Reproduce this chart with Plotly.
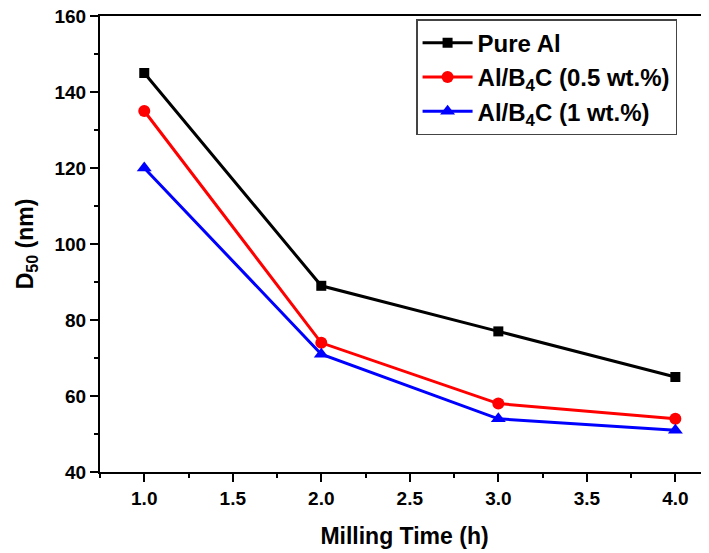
import plotly.graph_objects as go

milling_time = [1.0, 2.0, 3.0, 4.0]
pure_al = [145, 89, 77, 65]
al_b4c_05 = [135, 74, 58, 54]
al_b4c_1 = [120, 71, 54, 51]

names = ["Pure Al", "Al/B<sub>4</sub>C (0.5 wt.%)", "Al/B<sub>4</sub>C (1 wt.%)"]
series = [pure_al, al_b4c_05, al_b4c_1]
colors = ["#000000", "#ff0000", "#0000ff"]
symbols = ["square", "circle", "triangle-up"]
sizes = [10, 12, 13]

FONT = "Liberation Sans, Arial, sans-serif"

fig = go.Figure()
for n, s, c, sym, sz in zip(names, series, colors, symbols, sizes):
    fig.add_trace(go.Scatter(
        x=milling_time, y=s, name=n, mode="lines+markers",
        line=dict(color=c, width=3),
        marker=dict(symbol=sym, size=sz, color=c),
    ))

axis_common = dict(
    showline=True, linecolor="black", linewidth=2,
    ticks="outside", ticklen=8, tickwidth=2, tickcolor="black",
    showgrid=False, zeroline=False,
    ticklabeloverflow="allow", automargin=False,
    tickfont=dict(family=FONT, size=19, color="black", weight="bold"),
)

fig.update_layout(
    width=709, height=553,
    margin=dict(l=92, r=8, t=8, b=89),
    paper_bgcolor="white", plot_bgcolor="white",
    font=dict(family=FONT, color="black"),
    xaxis=dict(
        **axis_common,
        range=[0.75, 4.19], tick0=1.0, dtick=0.5, tickformat=".1f",
        mirror=True,
        minor=dict(ticks="outside", ticklen=4, tickwidth=2, tickcolor="black", dtick=0.25, tick0=0.75),
        title=dict(text="Milling Time (h)", font=dict(family=FONT, size=23, color="black", weight="bold"), standoff=20),
    ),
    yaxis=dict(
        **axis_common,
        range=[40, 160], tick0=40, dtick=20,
        minor=dict(ticks="outside", ticklen=4, tickwidth=2, tickcolor="black", dtick=10, tick0=40),
        title=dict(text="D<sub>50</sub> (nm)", font=dict(family=FONT, size=23, color="black", weight="bold"), standoff=14),
    ),
    legend=dict(
        x=0.519, y=0.993, xanchor="left", yanchor="top",
        bordercolor="#444444", borderwidth=1.5, bgcolor="white",
        font=dict(family=FONT, size=24, color="black", weight="bold"),
        itemwidth=50, tracegroupgap=0,
    ),
    showlegend=True,
)

fig.write_html("out.html")
